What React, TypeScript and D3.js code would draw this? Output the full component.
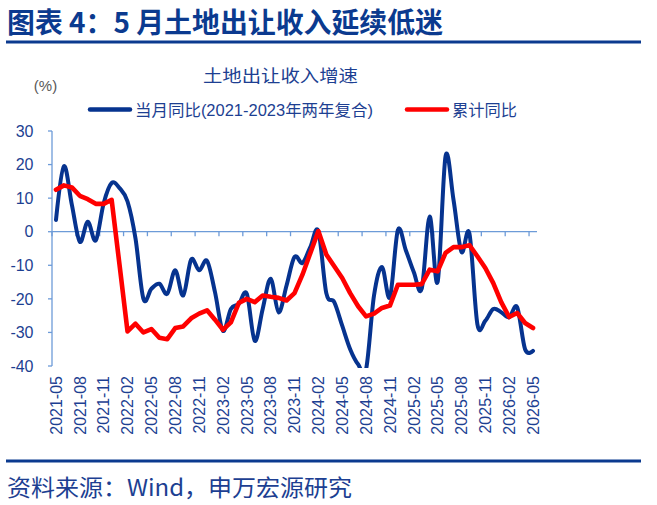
import React, { useEffect, useRef } from "react";
import * as d3 from "d3";

// 月度时间轴 2021-05 ~ 2026-05
const months = [
  "2021-05", "2021-06", "2021-07", "2021-08", "2021-09", "2021-10", "2021-11", "2021-12",
  "2022-01", "2022-02", "2022-03", "2022-04", "2022-05", "2022-06", "2022-07", "2022-08",
  "2022-09", "2022-10", "2022-11", "2022-12", "2023-01", "2023-02", "2023-03", "2023-04",
  "2023-05", "2023-06", "2023-07", "2023-08", "2023-09", "2023-10", "2023-11", "2023-12",
  "2024-01", "2024-02", "2024-03", "2024-04", "2024-05", "2024-06", "2024-07", "2024-08",
  "2024-09", "2024-10", "2024-11", "2024-12", "2025-01", "2025-02", "2025-03", "2025-04",
  "2025-05", "2025-06", "2025-07", "2025-08", "2025-09", "2025-10", "2025-11", "2025-12",
  "2026-01", "2026-02", "2026-03", "2026-04", "2026-05",
];

// 当月同比(2021-2023年两年复合), %
const monthlyYoy = [
  3.5, 19.5, 8, -3, 3, -2.6, 8.5, 14.5,
  13, 9, -2, -20, -17, -15.5, -18.5, -11.5,
  -19, -8.3, -11.5, -8.7, -18, -29.5, -23, -21.5,
  -18.5, -32.5, -23, -14, -24, -16, -7.5, -9.3,
  -4.5, 0.2, -18.3, -21, -28, -35, -39.5, -41,
  -19, -10.5, -19.5, 0.5, -5.5, -12, -17, 4.5,
  -15, 22.5, 9.5, -6, -0.5, -27.5, -26.5, -23,
  -24, -25.5, -22.5, -35, -35.5,
];

// 累计同比, %
const cumulativeYoy = [
  12.5, 13.8, 13.2, 10.7, 9.7, 8.3, 8.3, 9.5,
  -10, -29.7, -27.4, -30, -29, -31.6, -32, -28.7,
  -28.2, -25.8, -24.4, -23.4, -26.2, -29.2, -27, -21.2,
  -20, -21, -19, -19.4, -19.7, -20.5, -18.3, -12.8,
  -6.3, 0.2, -6.8, -10.3, -13.8, -18.3, -22.2, -25.2,
  -24.4, -22.7, -22, -15.8, -15.8, -15.8, -15.6, -11.3,
  -11.8, -6.3, -4.6, -4.6, -4, -7.3, -10.8, -15.3,
  -21, -25.4, -24.2, -27.2, -28.7,
];

const yTicks = [30, 20, 10, 0, -10, -20, -30, -40];
const labelStep = 3;

const seriesNames = ["当月同比(2021-2023年两年复合)", "累计同比"];
const chartTitle = "土地出让收入增速";
const pageTitle = "图表 4：5 月土地出让收入延续低迷";
const sourceNote = "资料来源：Wind，申万宏源研究";

const DARK_BLUE = "#0b3a8f";
const LINE_BLUE = "#06338f";
const RED = "#ff0000";
const AXIS = "#6d9bd8";
const TEXT_BLUE = "#1d3f92";
const CJK = "'Noto Sans CJK SC', sans-serif";
const LATIN = "'Liberation Sans', 'Noto Sans CJK SC', sans-serif";

export default function App() {
  const svgRef = useRef<SVGSVGElement | null>(null);

  useEffect(() => {
    const width = 657;
    const height = 505;
    const plot = { left: 52, right: 537, top: 131, bottom: 366 };

    const svg = d3.select(svgRef.current).attr("width", width).attr("height", height);
    svg.selectAll("*").remove();

    svg.append("rect").attr("width", width).attr("height", height).attr("fill", "#fff");

    // 标题与上下分隔线
    svg
      .append("text")
      .attr("x", 7)
      .attr("y", 32.5)
      .attr("font-family", CJK)
      .attr("font-weight", 700)
      .attr("font-size", 28)
      .attr("fill", DARK_BLUE)
      .attr("textLength", 436)
      .attr("lengthAdjust", "spacingAndGlyphs")
      .text(pageTitle);
    svg.append("rect").attr("x", 6).attr("y", 40.5).attr("width", 635).attr("height", 3).attr("fill", DARK_BLUE);
    svg.append("rect").attr("x", 6).attr("y", 459.5).attr("width", 635).attr("height", 3).attr("fill", DARK_BLUE);
    svg
      .append("text")
      .attr("x", 7)
      .attr("y", 496)
      .attr("font-family", CJK)
      .attr("font-size", 23)
      .attr("fill", TEXT_BLUE)
      .attr("textLength", 345)
      .attr("lengthAdjust", "spacingAndGlyphs")
      .text(sourceNote);

    // Scales
    const xScale = d3
      .scaleBand<string>()
      .domain(months)
      .range([plot.left, plot.right]);
    const xPos = (m: string) => (xScale(m) ?? 0) + xScale.bandwidth() / 2;

    const yScale = d3.scaleLinear().domain([-40, 30]).range([plot.bottom, plot.top]);

    // 图内标题、单位
    svg
      .append("text")
      .attr("x", 203)
      .attr("y", 81.5)
      .attr("font-family", CJK)
      .attr("font-size", 17)
      .attr("fill", TEXT_BLUE)
      .attr("textLength", 155)
      .attr("lengthAdjust", "spacingAndGlyphs")
      .text(chartTitle);
    svg
      .append("text")
      .attr("x", 45.5)
      .attr("y", 91)
      .attr("text-anchor", "middle")
      .attr("font-family", LATIN)
      .attr("font-size", 15)
      .attr("fill", "#595959")
      .text("(%)");

    // Legend
    const legend = [
      { name: seriesNames[0], color: LINE_BLUE, x: 90, len: 238 },
      { name: seriesNames[1], color: RED, x: 407, len: 65 },
    ];
    legend.forEach((d) => {
      svg
        .append("line")
        .attr("x1", d.x)
        .attr("x2", d.x + 40)
        .attr("y1", 109.5)
        .attr("y2", 109.5)
        .attr("stroke", d.color)
        .attr("stroke-width", 4.5)
        .attr("stroke-linecap", "round");
      svg
        .append("text")
        .attr("x", d.x + 45)
        .attr("y", 116)
        .attr("font-family", LATIN)
        .attr("font-size", 16)
        .attr("fill", TEXT_BLUE)
        .attr("textLength", d.len)
        .attr("lengthAdjust", "spacingAndGlyphs")
        .text(d.name);
    });

    // Y axis
    const yAxis = svg.append("g");
    yAxis
      .append("line")
      .attr("x1", plot.left)
      .attr("x2", plot.left)
      .attr("y1", plot.top)
      .attr("y2", plot.bottom)
      .attr("stroke", AXIS)
      .attr("stroke-width", 1.3);
    yTicks.forEach((t) => {
      yAxis
        .append("line")
        .attr("x1", plot.left - 4)
        .attr("x2", plot.left)
        .attr("y1", yScale(t))
        .attr("y2", yScale(t))
        .attr("stroke", AXIS)
        .attr("stroke-width", 1.3);
      yAxis
        .append("text")
        .attr("x", 33.5)
        .attr("y", yScale(t))
        .attr("dy", "0.36em")
        .attr("text-anchor", "end")
        .attr("font-family", LATIN)
        .attr("font-size", 16)
        .attr("fill", TEXT_BLUE)
        .text(t);
    });

    // Category axis on the zero line, tick marks between categories
    const y0 = yScale(0);
    const xAxis = svg.append("g");
    xAxis
      .append("line")
      .attr("x1", plot.left)
      .attr("x2", plot.right)
      .attr("y1", y0)
      .attr("y2", y0)
      .attr("stroke", AXIS)
      .attr("stroke-width", 1.3);
    months.forEach((m, i) => {
      if (i % labelStep !== 0) return;
      const xb = xScale(m) ?? 0;
      xAxis
        .append("line")
        .attr("x1", xb)
        .attr("x2", xb)
        .attr("y1", y0)
        .attr("y2", y0 + 4.5)
        .attr("stroke", AXIS)
        .attr("stroke-width", 1.3);
      xAxis
        .append("text")
        .attr("transform", `translate(${xPos(m)}, ${plot.bottom + 10}) rotate(-90)`)
        .attr("dy", "0.36em")
        .attr("text-anchor", "end")
        .attr("font-family", LATIN)
        .attr("font-size", 16)
        .attr("fill", TEXT_BLUE)
        .text(m);
    });

    // Clip lines to the plot area
    svg
      .append("clipPath")
      .attr("id", "plot-clip")
      .append("rect")
      .attr("x", plot.left - 6)
      .attr("y", plot.top - 6)
      .attr("width", plot.right - plot.left + 12)
      .attr("height", plot.bottom - plot.top + 8);

    const lines = svg.append("g").attr("clip-path", "url(#plot-clip)");

    const monthlyLine = d3
      .line<number>()
      .x((_, i) => xPos(months[i]))
      .y((d) => yScale(d))
      .curve(d3.curveCardinal.tension(0));

    const cumulativeLine = d3
      .line<number>()
      .x((_, i) => xPos(months[i]))
      .y((d) => yScale(d));

    lines
      .append("path")
      .datum(monthlyYoy)
      .attr("fill", "none")
      .attr("stroke", LINE_BLUE)
      .attr("stroke-width", 4)
      .attr("stroke-linejoin", "round")
      .attr("stroke-linecap", "round")
      .attr("d", monthlyLine);

    lines
      .append("path")
      .datum(cumulativeYoy)
      .attr("fill", "none")
      .attr("stroke", RED)
      .attr("stroke-width", 4.6)
      .attr("stroke-linejoin", "round")
      .attr("stroke-linecap", "round")
      .attr("d", cumulativeLine);
  }, []);

  return (
    <svg
      ref={svgRef}
      style={{ position: "absolute", left: 0, top: 0, display: "block" }}
    ></svg>
  );
}
